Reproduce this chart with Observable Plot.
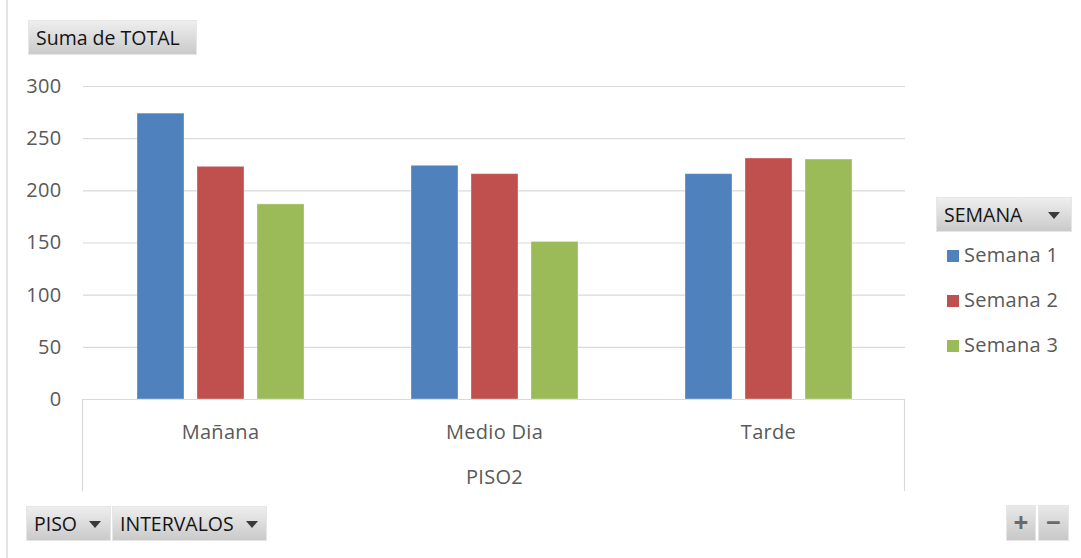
<!DOCTYPE html>
<html><head><meta charset="utf-8">
<script src="https://cdn.jsdelivr.net/npm/d3@7"></script>
<script src="https://cdn.jsdelivr.net/npm/@observablehq/plot@0.6"></script>
<style>
body{margin:0;background:#fff;font-family:"Open Sans",sans-serif;}
#wrap{position:relative;width:1081px;height:558px;overflow:hidden;background:#fff;}
#chart{position:absolute;left:0;top:0;}
.edge{position:absolute;left:6px;top:0;width:2px;height:558px;background:#e3e3e3;}
.btn{position:absolute;box-sizing:border-box;background:linear-gradient(#eeeeee,#cacaca);border:1px solid #e6e6e6;color:#141414;font-size:19.5px;line-height:33px;padding-left:7px;white-space:nowrap;}
.tri{position:absolute;top:14px;width:0;height:0;border-left:6px solid transparent;border-right:6px solid transparent;border-top:7px solid #3a3a3a;}
.leg{position:absolute;left:947px;font-size:20px;color:#595959;white-space:nowrap;line-height:22px;letter-spacing:0.3px;}
.sw{display:inline-block;width:12px;height:12px;margin-right:5px;vertical-align:0px;}
.pm{position:absolute;box-sizing:border-box;background:linear-gradient(#e8e8e8,#c8c8c8);border:1px solid #e6e6e6;color:#6a6a6a;font-size:26px;line-height:32px;text-align:center;font-weight:bold;}
</style></head>
<body>
<div id="wrap">
  <div class="edge"></div>
  <div id="chart"></div>
</div>
<script>
const intervalos = ["Mañana", "Medio Dia", "Tarde"];
const semanas = ["Semana 1", "Semana 2", "Semana 3"];
const semana1 = [274, 224, 216];
const semana2 = [223, 216, 231];
const semana3 = [187, 151, 230];
const yTicks = [0, 50, 100, 150, 200, 250, 300];
const piso = "PISO2";
const colores = ["#4f81bd", "#c0504d", "#9bbb59"];
const titulo = "Suma de TOTAL";
const leyendaTitulo = "SEMANA";
const filtros = ["PISO", "INTERVALOS"];

const series = [semana1, semana2, semana3];
const rows = [];
intervalos.forEach((iv, i) => semanas.forEach((s, j) => rows.push({intervalo: iv, semana: s, total: series[j][i]})));

const chart = Plot.plot({
  width: 1081, height: 558,
  marginLeft: 82, marginRight: 176, marginTop: 86, marginBottom: 159,
  style: {fontFamily: "'Open Sans', sans-serif", fontSize: "20px", color: "#595959", background: "transparent", letterSpacing: "0.3px"},
  fx: {domain: intervalos, padding: 0, axis: "bottom", tickSize: 0, tickPadding: 25, label: piso, labelAnchor: "center", labelOffset: 84},
  x: {domain: semanas, paddingInner: 0.217, paddingOuter: 0.89, axis: null},
  y: {domain: [0, 300], ticks: yTicks, tickSize: 0, tickPadding: 22, label: null},
  color: {domain: semanas, range: colores},
  marks: [
    Plot.ruleY(yTicks, {stroke: "#d9d9d9", strokeWidth: 1.2}),
    Plot.barY(rows, {fx: "intervalo", x: "semana", y: "total", fill: "semana", stroke: "#ffffff", strokeOpacity: 0.35, strokeWidth: 1})
  ]
});
document.getElementById("chart").appendChild(chart);

// category box side lines
const fxs = chart.scale("fx"), ys = chart.scale("y");
const svg = d3.select(chart.tagName === "svg" ? chart : chart.querySelector("svg"));
const y0 = ys.apply(0);
[fxs.range[0] + 0.5, fxs.range[1] - 0.5].forEach(x => {
  svg.append("line").attr("x1", x).attr("x2", x).attr("y1", y0).attr("y2", y0 + 92)
    .attr("stroke", "#d9d9d9").attr("stroke-width", 1.2);
});

const wrap = document.getElementById("wrap");
function btn(text, left, top, width, triLeft) {
  const d = document.createElement("div");
  d.className = "btn";
  d.style.left = left + "px"; d.style.top = top + "px"; d.style.width = width + "px"; d.style.height = "35px";
  d.textContent = text;
  if (triLeft != null) {
    const t = document.createElement("div"); t.className = "tri"; t.style.left = triLeft + "px"; d.appendChild(t);
  }
  wrap.appendChild(d);
}
btn(titulo, 28, 20, 169, null);
btn(leyendaTitulo, 936, 197, 136, 111);
btn(filtros[0], 26, 506, 85, 62);
btn(filtros[1], 112, 506, 155, 133);

semanas.forEach((s, i) => {
  const d = document.createElement("div");
  d.className = "leg";
  d.style.top = (244 + i * 45) + "px";
  const sw = document.createElement("span"); sw.className = "sw"; sw.style.background = colores[i];
  d.appendChild(sw); d.appendChild(document.createTextNode(s));
  wrap.appendChild(d);
});
[["+", 1006, 30], ["−", 1038, 31]].forEach(([t, l, w]) => {
  const d = document.createElement("div"); d.className = "pm";
  d.style.left = l + "px"; d.style.top = "505px"; d.style.width = w + "px"; d.style.height = "36px";
  d.textContent = t; wrap.appendChild(d);
});
</script>
</body></html>
